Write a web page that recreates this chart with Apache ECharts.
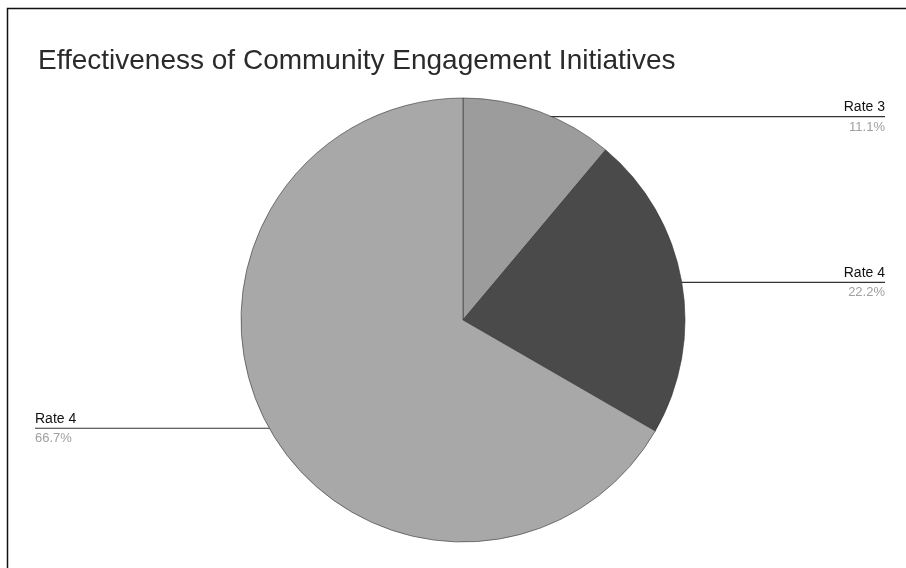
<!DOCTYPE html>
<html lang="en">
<head>
    <meta charset="utf-8" />
    <title>Effectiveness of Community Engagement Initiatives</title>
    <script type="text/javascript" src="https://cdn.jsdelivr.net/npm/echarts@6/dist/echarts.min.js"></script>
    <style type="text/css">
        body{margin:0;background:#fff;}
    </style>
</head>
<body>
    <div id="main" style="width:906px;height:568px;"></div>

    <script type="text/javascript">
        var names = ['Rate 3', 'Rate 4', 'Rate 4'];
        var values = [1, 2, 6];
        var colors = ['#9c9c9c', '#4a4a4a', '#a8a8a8'];

        var pie_data = [];
        for (var i = 0; i < values.length; i++) {
            pie_data.push({ name: names[i], value: values[i], itemStyle: { color: colors[i] } });
        }

        var cx = 463, cy = 320;
        var myChart = echarts.init(document.getElementById('main'));

        var option = {
            backgroundColor: '#fff',
            animation: false,
            title: {
                text: 'Effectiveness of Community Engagement Initiatives',
                left: 33,
                top: 42,
                textStyle: { fontFamily: 'Liberation Sans, Arial', fontSize: 28, fontWeight: 'normal', color: '#2a2a2a' }
            },
            graphic: [{
                type: 'rect',
                shape: { x: 7.5, y: 8.5, width: 1000, height: 1000 },
                style: { fill: 'none', stroke: '#111', lineWidth: 1.5 }
            }],
            series: [{
                type: 'pie',
                center: [cx, cy],
                radius: 222,
                startAngle: 90,
                clockwise: true,
                data: pie_data,
                itemStyle: { borderColor: '#333', borderWidth: 0.6 },
                label: {
                    show: true,
                    position: 'outside',
                    formatter: function (params) {
                        return '{n|' + params.name + '}\n{p|' + params.percent.toFixed(1) + '%}';
                    },
                    rich: {
                        n: { fontFamily: 'Liberation Sans, Arial', fontSize: 14, color: '#111', lineHeight: 21 },
                        p: { fontFamily: 'Liberation Sans, Arial', fontSize: 13, color: '#a0a0a0', lineHeight: 19 }
                    }
                },
                labelLine: {
                    show: true,
                    length: 5,
                    length2: 10,
                    lineStyle: { color: '#333', width: 1.2 }
                },
                labelLayout: function (params) {
                    var p = params.labelLinePoints;
                    var isLeft = p[0][0] < cx;
                    // lines sit a little inside the rim, as in the original
                    var y = cy + (p[0][1] - cy) * 0.975;
                    var sx = cx + (p[0][0] - cx) * 0.975;
                    var x = isLeft ? 35 : 885;
                    return {
                        x: x,
                        y: y,
                        align: isLeft ? 'left' : 'right',
                        verticalAlign: 'middle',
                        labelLinePoints: [[sx, y], [sx, y], [x, y]]
                    };
                }
            }]
        };
        myChart.setOption(option, true);
    </script>
</body>
</html>
